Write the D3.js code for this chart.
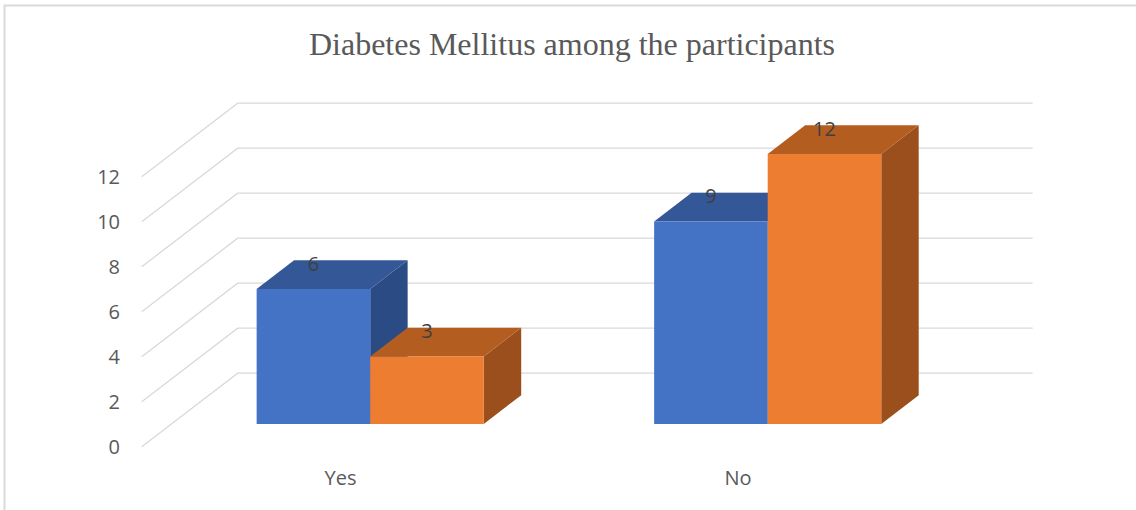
<!DOCTYPE html>
<html>
<head>
<meta charset="utf-8">
<script src="https://cdn.jsdelivr.net/npm/d3@7"></script>
<style>
  body { margin: 0; background: #fff; }
  svg { display: block; }
</style>
</head>
<body>
<div id="chart"></div>
<script>
let categories = ["Yes", "No"];
let series = ["Series1", "Series2"];
let values = [[6, 3], [9, 12]];   // [category][series]
let yTicks = [0, 2, 4, 6, 8, 10, 12];

let colors = [
    { front: "#4472C4", top: "#345797", side: "#2B4B85" },
    { front: "#ED7D31", top: "#B45D21", side: "#9A4F1D" }
];

function chart(selector){
    let width = 1136;
    let height = 510;
    // oblique depth offset of the floor (front -> back wall)
    let DX = 96, DY = 73.5;
    let zFront = 0.31, zBack = 0.70;

    let x0 = d3.scaleBand()
        .domain(categories)
        .range([141.7, 936.7])
        .paddingInner(0.4286)
        .paddingOuter(0.2143)

    let x1 = d3.scaleBand()
        .domain(series)
        .range([0, x0.bandwidth()])

    let y = d3.scaleLinear()
        .domain([0, 12])
        .range([446.7, 176.7])

    // project front-plane x, value, depth z (0..1) to screen
    let P = (xf, v, z) => [xf + z * DX, y(v) - z * DY];

    let svg = d3.select(selector)
        .append("svg")
        .attr("width", width)
        .attr("height", height);

    // chart border
    svg.append("rect")
        .attr("x", 4.5).attr("y", 5.5)
        .attr("width", width + 10).attr("height", height + 10)
        .attr("fill", "#fff")
        .attr("stroke", "#D9D9D9")
        .attr("stroke-width", 2);

    svg.append("text")
        .attr("x", 572)
        .attr("y", 55)
        .attr("text-anchor", "middle")
        .attr("font-family", "'Liberation Serif', 'Times New Roman', serif")
        .attr("font-size", 32)
        .attr("fill", "#595959")
        .text("Diabetes Mellitus among the participants");

    // gridlines: floor diagonal + back wall
    let xL = x0.range()[0], xR = x0.range()[1];
    svg.append("g")
        .attr("fill", "none")
        .attr("stroke", "#D9D9D9")
        .attr("stroke-width", 1.3)
        .selectAll("path")
        .data(yTicks)
        .join("path")
        .attr("d", v => d3.line()([P(xL, v, 0), P(xL, v, 1), P(xR, v, 1)]));

    // y tick labels
    svg.append("g")
        .attr("font-family", "'Open Sans', sans-serif")
        .attr("font-size", 20)
        .attr("fill", "#595959")
        .attr("text-anchor", "end")
        .selectAll("text")
        .data(yTicks)
        .join("text")
        .attr("x", 120)
        .attr("y", v => y(v))
        .attr("dy", "0.35em")
        .text(v => v);

    // category labels
    svg.append("g")
        .attr("font-family", "'Open Sans', sans-serif")
        .attr("font-size", 20)
        .attr("fill", "#595959")
        .attr("text-anchor", "middle")
        .selectAll("text")
        .data(categories)
        .join("text")
        .attr("x", d => x0(d) + x0.bandwidth() / 2)
        .attr("y", 478)
        .attr("dy", "0.35em")
        .text(d => d);

    // bars, drawn left to right
    let bars = [];
    categories.forEach((c, i) => series.forEach((s, j) => {
        bars.push({ c, s, j, v: values[i][j], l: x0(c) + x1(s), r: x0(c) + x1(s) + x1.bandwidth() });
    }));

    let poly = pts => d3.line()(pts) + "Z";

    let g = svg.append("g")
        .selectAll("g")
        .data(bars)
        .join("g");

    g.append("path")
        .attr("fill", d => colors[d.j].side)
        .attr("d", d => poly([P(d.r, 0, zFront), P(d.r, d.v, zFront), P(d.r, d.v, zBack), P(d.r, 0, zBack)]));

    g.append("path")
        .attr("fill", d => colors[d.j].top)
        .attr("d", d => poly([P(d.l, d.v, zFront), P(d.r, d.v, zFront), P(d.r, d.v, zBack), P(d.l, d.v, zBack)]));

    g.append("path")
        .attr("fill", d => colors[d.j].front)
        .attr("d", d => poly([P(d.l, 0, zFront), P(d.l, d.v, zFront), P(d.r, d.v, zFront), P(d.r, 0, zFront)]));

    // data labels
    svg.append("g")
        .attr("font-family", "'Open Sans', sans-serif")
        .attr("font-size", 20)
        .attr("fill", "#404040")
        .attr("text-anchor", "middle")
        .selectAll("text")
        .data(bars)
        .join("text")
        .attr("x", d => P((d.l + d.r) / 2, d.v, zFront)[0])
        .attr("y", d => P(d.l, d.v, zBack)[1] + 3.5)
        .attr("dy", "0.35em")
        .text(d => d.v);

    return svg.node();
}

chart("#chart");
</script>
</body>
</html>
